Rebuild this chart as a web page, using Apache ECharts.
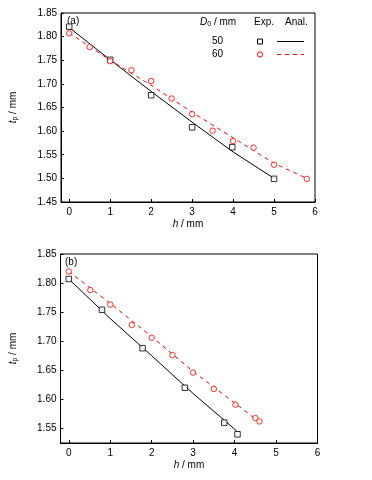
<!DOCTYPE html>
<html><head><meta charset="utf-8">
<script src="https://cdn.jsdelivr.net/npm/echarts@6/dist/echarts.min.js"></script>
<style>html,body{margin:0;padding:0;background:#fff}#c{width:372px;height:480px}</style>
</head><body><div id="c"></div>
<script>
// Panel (a)
const a50Exp = [[0,1.821],[1,1.751],[2,1.676],[3,1.608],[3.98,1.566],[5,1.499]];
const a60Exp = [[0,1.807],[0.5,1.778],[1,1.748],[1.52,1.729],[2,1.706],[2.5,1.669],[3,1.636],[3.5,1.601],[4,1.579],[4.5,1.565],[5,1.529],[5.8,1.499]];
const a50Anal = [[0,1.819],[1,1.751],[2,1.684],[3,1.619],[4,1.556],[5,1.500]];
const a60Anal = [[0,1.808],[1,1.750],[2,1.697],[3,1.640],[4,1.586],[5,1.532],[5.8,1.500]];
// Panel (b)
const b50Exp = [[0,1.807],[0.8,1.754],[1.78,1.688],[2.8,1.620],[3.75,1.560],[4.07,1.540]];
const b60Exp = [[0,1.820],[0.52,1.788],[1,1.763],[1.52,1.728],[2,1.706],[2.5,1.676],[3,1.646],[3.5,1.618],[4.02,1.591],[4.5,1.568],[4.6,1.562]];
const b50Anal = [[0,1.807],[1,1.739],[2,1.675],[3,1.610],[4,1.549],[4.05,1.545]];
const b60Anal = [[0,1.820],[1,1.765],[2,1.708],[3,1.648],[4,1.594],[4.6,1.561]];
const xTicks = [0,1,2,3,4,5,6];
const yTicksA = [1.45,1.50,1.55,1.60,1.65,1.70,1.75,1.80,1.85];
const yTicksB = [1.55,1.60,1.65,1.70,1.75,1.80,1.85];

const FONT = '"Liberation Sans", Arial, sans-serif';
const txt = {fontFamily: FONT, fontSize: 10, color: '#000'};
const chart = echarts.init(document.getElementById('c'));

function xAxis(gi){
  return {type:'value', gridIndex:gi, min:-0.2, max:6,
    axisLine:{show:true,onZero:false,lineStyle:{color:'#000',width:1}},
    axisTick:{show:true,inside:true,length:3,customValues:xTicks,lineStyle:{color:'#000'}},
    axisLabel:Object.assign({customValues:xTicks,margin:5,formatter:v=>String(Math.round(v))},txt),
    splitLine:{show:false},
    name:'{i|h} / mm', nameLocation:'middle', nameGap:17,
    nameTextStyle:Object.assign({rich:{i:Object.assign({fontStyle:'italic'},txt)}},txt)};
}
function yAxis(gi,min,ticks){
  return {type:'value', gridIndex:gi, min:min, max:1.85,
    axisLine:{show:true,onZero:false,lineStyle:{color:'#000',width:1}},
    axisTick:{show:true,inside:true,length:3,customValues:ticks,lineStyle:{color:'#000'}},
    axisLabel:Object.assign({customValues:ticks,margin:4,formatter:v=>v.toFixed(2)},txt),
    splitLine:{show:false},
    name:'{i|t}{s|p} / mm', nameLocation:'middle', nameGap:42, nameRotate:90,
    nameTextStyle:Object.assign({rich:{i:Object.assign({fontStyle:'italic'},txt),s:Object.assign({},txt,{fontSize:7,verticalAlign:'bottom',padding:[4,0,0,0]})}},txt)};
}
function sc(name,data,xi,color,sym){
  return {type:'scatter',name:name,data:data,xAxisIndex:xi,yAxisIndex:xi,symbol:sym,symbolSize:5.5,
    itemStyle:{color:'#fff',borderColor:color,borderWidth:1},z:3,silent:true};
}
function ln(name,data,xi,color,dash){
  return {type:'line',name:name,data:data,xAxisIndex:xi,yAxisIndex:xi,showSymbol:false,smooth:false,
    lineStyle:{color:color,width:1,type:dash?[4,4]:'solid'},z:2,silent:true};
}
const legendText = (x,y,t,extra)=>({type:'text',left:x,top:y,style:Object.assign({text:t,font:'10px '+FONT,fill:'#000'},extra||{})});

chart.setOption({
  animation:false,
  grid:[
    {left:61,top:13,width:254,height:189,show:true,borderColor:'#000',borderWidth:1,backgroundColor:'transparent'},
    {left:59.5,top:254,width:258,height:189,show:true,borderColor:'#000',borderWidth:1,backgroundColor:'transparent'}
  ],
  xAxis:[xAxis(0),xAxis(1)],
  yAxis:[yAxis(0,1.45,yTicksA),yAxis(1,1.525,yTicksB)],
  series:[
    ln('50 Anal. (a)',a50Anal,0,'#000',false),
    ln('60 Anal. (a)',a60Anal,0,'#ff0000',true),
    sc('50 Exp. (a)',a50Exp,0,'#000','rect'),
    sc('60 Exp. (a)',a60Exp,0,'#ff0000','circle'),
    ln('50 Anal. (b)',b50Anal,1,'#000',false),
    ln('60 Anal. (b)',b60Anal,1,'#ff0000',true),
    sc('50 Exp. (b)',b50Exp,1,'#000','rect'),
    sc('60 Exp. (b)',b60Exp,1,'#ff0000','circle')
  ],
  graphic:[
    legendText(67,16,'(a)'),
    legendText(65,257,'(b)'),
    {type:'text',left:200,top:17,style:{
      text:'{i|D}{s|0} / mm',font:'10px '+FONT,fill:'#000',
      rich:{i:{fontStyle:'italic',fontFamily:FONT,fontSize:10},s:{fontFamily:FONT,fontSize:7,padding:[5,0,0,0]}}}},
    legendText(254,17,'Exp.'),
    legendText(285,17,'Anal.'),
    legendText(212,36,'50'),
    legendText(212,49,'60'),
    {type:'rect',shape:{x:257.5,y:39,width:5,height:5},style:{fill:'#fff',stroke:'#000',lineWidth:1}},
    {type:'circle',shape:{cx:260,cy:54.5,r:2.6},style:{fill:'#fff',stroke:'#ff0000',lineWidth:1}},
    {type:'line',shape:{x1:277,y1:41.5,x2:304,y2:41.5},style:{stroke:'#000',lineWidth:1}},
    {type:'line',shape:{x1:277,y1:54.5,x2:304,y2:54.5},style:{stroke:'#ff0000',lineWidth:1,lineDash:[4,4]}}
  ]
});
</script></body></html>
